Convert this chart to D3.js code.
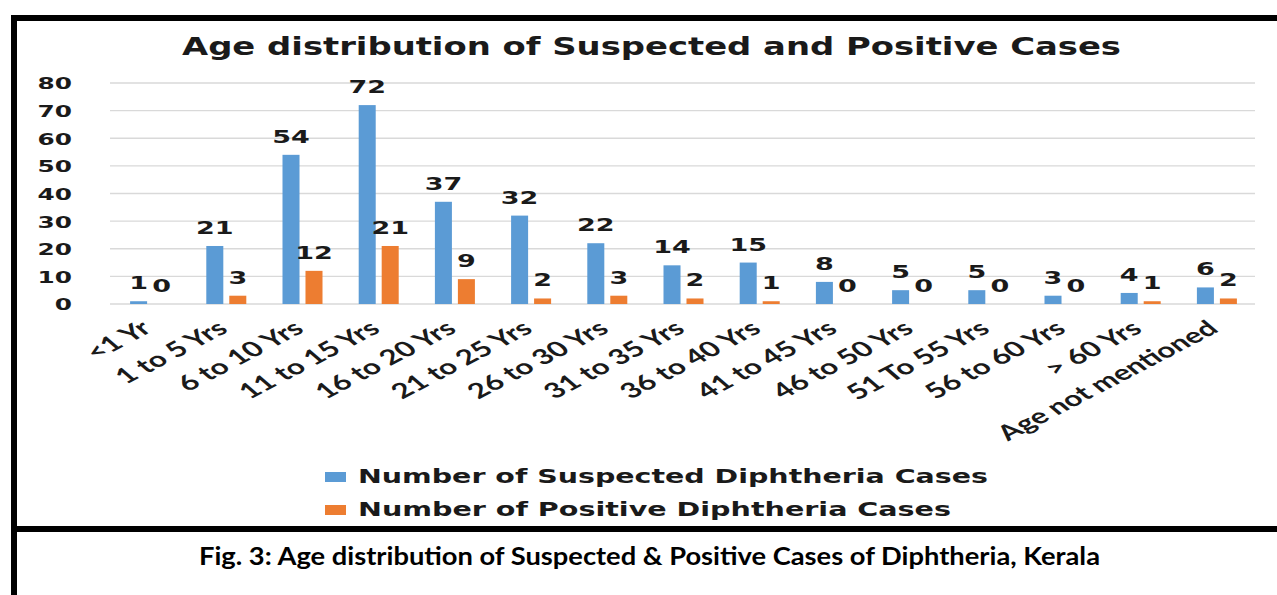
<!DOCTYPE html>
<html>
<head>
<meta charset="utf-8">
<script src="https://cdn.jsdelivr.net/npm/d3@7"></script>
<style>
  body { margin: 0; background: #ffffff; }
  svg { display: block; }
</style>
</head>
<body>
<svg id="drawing_region"></svg>
<script>
const categories = ["<1 Yr", "1 to 5 Yrs", "6 to 10 Yrs", "11 to 15 Yrs", "16 to 20 Yrs",
    "21 to 25 Yrs", "26 to 30 Yrs", "31 to 35 Yrs", "36 to 40 Yrs", "41 to 45 Yrs",
    "46 to 50 Yrs", "51 To 55 Yrs", "56 to 60 Yrs", "> 60 Yrs", "Age not mentioned"];
const suspected = [1, 21, 54, 72, 37, 32, 22, 14, 15, 8, 5, 5, 3, 4, 6];
const positive  = [0, 3, 12, 21, 9, 2, 3, 2, 1, 0, 0, 0, 0, 1, 2];
const seriesNames = ["Number of Suspected Diphtheria Cases", "Number of Positive Diphtheria Cases"];
const yTicks = [0, 10, 20, 30, 40, 50, 60, 70, 80];

const chartTitle = "Age distribution of Suspected and Positive Cases";
const caption = "Fig. 3: Age distribution of Suspected & Positive Cases of Diphtheria, Kerala";

var config = {
    parent: '#drawing_region',
    width: 1277,
    height: 595,
    plot: {left: 112, right: 1255, top: 83, bottom: 304},
    colors: ["#5b9bd5", "#ed7d31"],
    stretch: 1.5
};

class GroupedBarChart {

    constructor( config ) {
        this.config = config;
        this.data = categories.map( (c, i) => ({label: c, values: [suspected[i], positive[i]]}) );
        this.init();
    }

    init() {
        let self = this;
        const p = self.config.plot;

        self.svg = d3.select( self.config.parent )
            .attr('width', self.config.width)
            .attr('height', self.config.height);

        self.xscale = d3.scaleBand()
            .domain( categories )
            .range( [p.left, p.right] )
            .paddingInner( 0.475 )
            .paddingOuter( 0.2375 );

        self.x1 = d3.scaleBand()
            .domain( [0, 1] )
            .range( [0, self.xscale.bandwidth()] )
            .paddingInner( 0.26 );

        self.yscale = d3.scaleLinear()
            .domain( [0, 80] )
            .range( [p.bottom, p.top] );

        self.grid_group = self.svg.append('g');
        self.bar_group = self.svg.append('g');
        self.label_group = self.svg.append('g');
        self.yaxis_group = self.svg.append('g');
        self.xaxis_group = self.svg.append('g');
    }

    render() {
        let self = this;
        const p = self.config.plot;
        const s = self.config.stretch;

        // gridlines
        self.grid_group.selectAll('line').data(yTicks).enter()
            .append('line')
            .attr('x1', p.left - 2)
            .attr('x2', p.right)
            .attr('y1', d => self.yscale(d))
            .attr('y2', d => self.yscale(d))
            .attr('stroke', '#d9d9d9')
            .attr('stroke-width', 1.3);

        // y axis labels (no axis line, Excel style)
        const yaxis = d3.axisLeft( self.yscale )
            .tickValues( yTicks )
            .tickSize( 0 )
            .tickPadding( 0 );
        self.yaxis_group
            .attr('transform', 'translate(72,0)')
            .call( yaxis );
        self.yaxis_group.select('.domain').remove();
        self.yaxis_group.selectAll('text')
            .attr('x', 0)
            .attr('dy', '0.36em')
            .attr('transform', `scale(${s},1)`)
            .attr('fill', '#1a1a1a')
            .attr('font-family', 'DejaVu Sans')
            .attr('font-weight', 'bold')
            .attr('font-size', '16.5px');

        // bars
        const groups = self.bar_group.selectAll('g').data(self.data).enter()
            .append('g')
            .attr('transform', d => `translate(${self.xscale(d.label)},0)`);

        groups.selectAll('rect')
            .data( d => d.values.map( (v, k) => ({k: k, v: v}) ) )
            .enter()
            .append('rect')
            .attr('x', d => self.x1(d.k))
            .attr('y', d => self.yscale(d.v))
            .attr('width', self.x1.bandwidth())
            .attr('height', d => self.yscale(0) - self.yscale(d.v))
            .attr('fill', d => self.config.colors[d.k]);

        // value labels
        const labels = [];
        self.data.forEach( d => d.values.forEach( (v, k) => {
            labels.push({
                x: self.xscale(d.label) + self.x1(k) + self.x1.bandwidth() / 2,
                y: self.yscale(v) - 12,
                v: v
            });
        }));
        self.label_group.selectAll('text').data(labels).enter()
            .append('text')
            .attr('transform', d => `translate(${d.x},${d.y}) scale(${s},1)`)
            .attr('text-anchor', 'middle')
            .attr('fill', '#1a1a1a')
            .attr('font-family', 'DejaVu Sans')
            .attr('font-weight', 'bold')
            .attr('font-size', '18px')
            .text( d => d.v );

        // rotated category labels
        self.xaxis_group.selectAll('text').data(categories).enter()
            .append('text')
            .attr('transform', d => `translate(${self.xscale(d) + self.xscale.bandwidth() / 2 + 3},${p.bottom + 27}) scale(${s},1) rotate(-38)`)
            .attr('text-anchor', 'end')
            .attr('fill', '#1a1a1a')
            .attr('font-family', 'Lato')
            .attr('font-weight', 'bold')
            .attr('font-size', '21px')
            .text( d => d );

        // title
        self.svg.append('text')
            .attr('x', 182)
            .attr('y', 55)
            .attr('textLength', 939)
            .attr('lengthAdjust', 'spacingAndGlyphs')
            .attr('fill', '#1a1a1a')
            .attr('font-family', 'DejaVu Sans')
            .attr('font-weight', 'bold')
            .attr('font-size', '24px')
            .text( chartTitle );

        // legend
        const legendLength = [630, 593];
        const legend = self.svg.append('g');
        legend.selectAll('rect').data(seriesNames).enter()
            .append('rect')
            .attr('x', 325)
            .attr('y', (d, i) => 472 + i * 33)
            .attr('width', 21)
            .attr('height', 10)
            .attr('fill', (d, i) => self.config.colors[i]);
        legend.selectAll('text').data(seriesNames).enter()
            .append('text')
            .attr('x', 358)
            .attr('y', (d, i) => 483 + i * 33)
            .attr('textLength', (d, i) => legendLength[i])
            .attr('lengthAdjust', 'spacingAndGlyphs')
            .attr('fill', '#1a1a1a')
            .attr('font-family', 'DejaVu Sans')
            .attr('font-weight', 'bold')
            .attr('font-size', '19px')
            .text( d => d );

        // frame lines
        const frame = self.svg.append('g').attr('fill', '#000');
        frame.append('rect').attr('x', 11).attr('y', 15).attr('width', 1266).attr('height', 6);
        frame.append('rect').attr('x', 11).attr('y', 15).attr('width', 6).attr('height', 580);
        frame.append('rect').attr('x', 11).attr('y', 526).attr('width', 1266).attr('height', 6);

        // caption
        self.svg.append('text')
            .attr('x', 199)
            .attr('y', 565)
            .attr('textLength', 901)
            .attr('lengthAdjust', 'spacingAndGlyphs')
            .attr('fill', '#000')
            .attr('font-family', 'Lato')
            .attr('font-weight', 'bold')
            .attr('font-size', '25px')
            .text( caption );
    }
}

const chart = new GroupedBarChart( config );
chart.render();
</script>
</body>
</html>
